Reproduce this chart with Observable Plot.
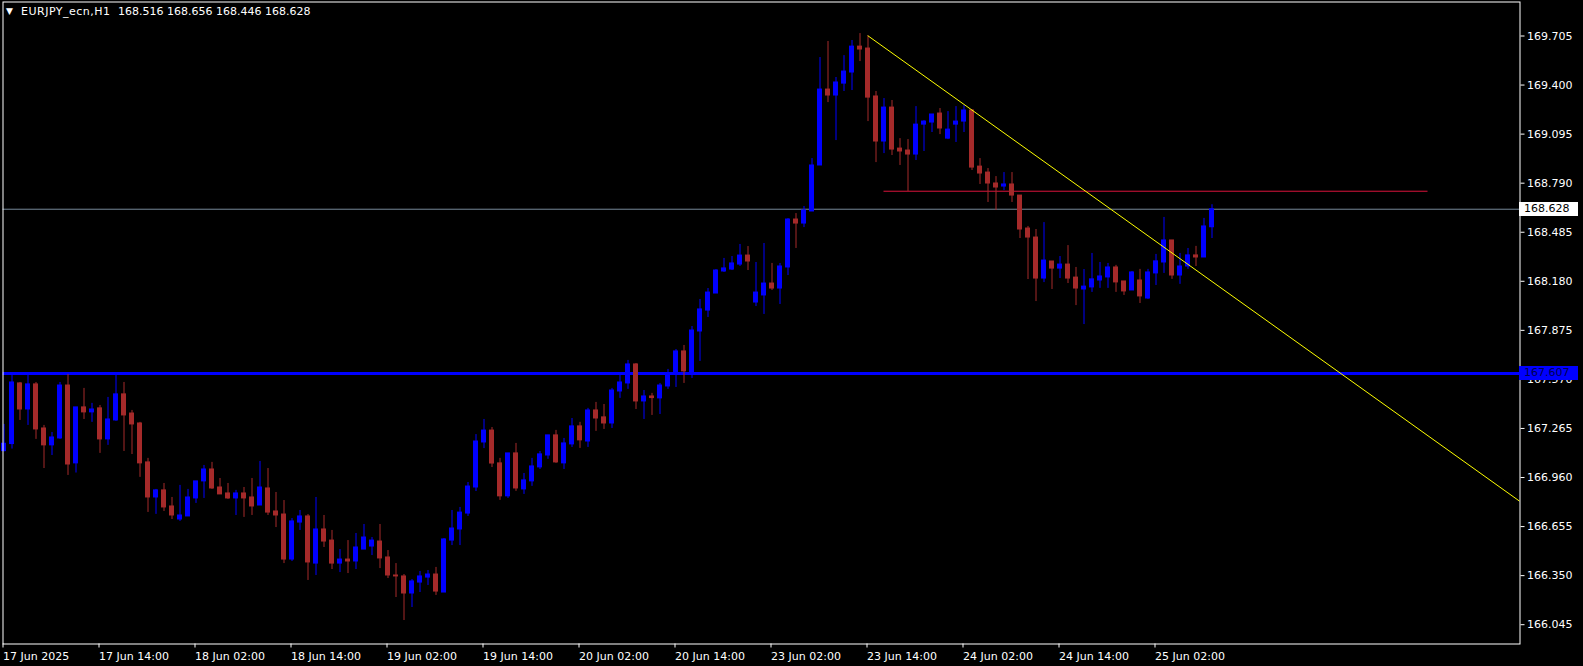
<!DOCTYPE html>
<html>
<head>
<meta charset="utf-8">
<script src="https://cdn.jsdelivr.net/npm/d3@7"></script>
<script src="https://cdn.jsdelivr.net/npm/@observablehq/plot@0.6"></script>
<style>
  html, body { margin: 0; padding: 0; background: #000; }
  #wrap { position: relative; width: 1583px; height: 666px; overflow: hidden; background: #000; }
  .ttl { position: absolute; top: 5px; color: #fff; font: 11px "DejaVu Sans", sans-serif; white-space: pre; }
  .tag { position: absolute; height: 14px; line-height: 14px; font: 11px "DejaVu Sans", sans-serif; padding-left: 5px; box-sizing: border-box; }
</style>
</head>
<body>
<div id="wrap">
  <div class="ttl" style="left:6px;top:6px;font-size:9px;">▼</div>
  <div class="ttl" style="left:21px;letter-spacing:0.5px;">EURJPY_ecn,H1</div>
  <div class="ttl" style="left:118px;">168.516 168.656 168.446 168.628</div>
</div>
<script>
// ---- data (EURJPY H1, bars from 17 Jun 02:00 to 25 Jun 09:00) ----
const opens = [
167.124,167.168,167.545,167.383,167.539,167.265,167.160,167.203,167.532,167.048,
167.396,167.365,167.390,167.197,167.315,167.477,167.358,167.296,167.054,166.836,
166.880,166.780,166.699,166.718,166.830,166.936,167.010,166.898,166.861,166.830,
166.861,166.836,166.786,166.892,166.749,166.730,166.450,166.680,166.718,166.425,
166.637,166.568,166.425,166.450,166.438,166.512,166.531,166.562,166.463,166.351,
166.345,166.239,166.307,166.338,166.357,166.245,166.568,166.637,166.736,166.898,
167.178,167.252,167.048,166.843,167.110,166.886,166.936,167.023,167.097,167.222,
167.048,167.166,167.278,167.184,167.377,167.334,167.296,167.495,167.545,167.663,
167.433,167.464,167.452,167.526,167.601,167.744,167.613,167.868,167.998,168.104,
168.241,168.253,168.284,168.340,168.048,168.092,168.166,168.135,168.266,168.564,
168.539,168.614,168.900,169.372,169.335,169.409,169.478,169.639,169.627,169.329,
169.049,169.260,169.005,168.993,168.968,169.154,169.167,169.223,169.067,169.154,
169.173,169.242,168.893,168.856,168.788,168.769,168.782,168.713,168.508,168.452,
168.197,168.303,168.259,168.284,168.203,168.129,168.142,168.185,168.204,168.266,
168.179,168.123,168.185,168.073,168.229,168.297,168.434,168.216,168.272,168.341,
168.328,168.516];
const highs = [
167.290,167.601,167.551,167.595,167.551,167.284,167.240,167.551,167.601,167.396,
167.514,167.421,167.408,167.458,167.595,167.551,167.377,167.303,167.079,166.886,
166.923,166.836,166.911,166.886,166.936,167.035,167.054,166.954,166.923,166.880,
166.898,166.954,167.060,167.016,166.867,166.817,166.705,166.755,166.730,166.836,
166.724,166.631,166.512,166.568,166.612,166.668,166.587,166.668,166.506,166.425,
166.357,166.326,166.376,166.382,166.401,166.581,166.755,166.774,166.929,167.227,
167.321,167.271,167.079,167.110,167.172,166.985,167.079,167.122,167.222,167.253,
167.203,167.327,167.303,167.390,167.427,167.414,167.514,167.607,167.688,167.669,
167.501,167.483,167.545,167.632,167.756,167.781,167.899,168.067,168.135,168.253,
168.322,168.334,168.409,168.396,168.297,168.415,168.291,168.291,168.570,168.601,
168.645,168.943,169.571,169.671,169.447,169.583,169.677,169.720,169.706,169.360,
169.316,169.304,169.067,169.061,169.266,169.179,169.217,169.254,169.235,169.266,
169.273,169.248,168.943,168.881,168.831,168.856,168.856,168.713,168.521,168.502,
168.545,168.303,168.334,168.402,168.266,168.253,168.353,168.297,168.291,168.279,
168.179,168.241,168.254,168.254,168.347,168.577,168.434,168.353,168.384,168.397,
168.571,168.656];
const lows = [
167.120,167.137,167.315,167.284,167.197,167.016,167.097,167.197,166.973,166.988,
167.321,167.303,167.110,167.160,167.309,167.122,167.103,166.961,166.743,166.731,
166.749,166.699,166.687,166.718,166.799,166.830,166.886,166.855,166.824,166.724,
166.712,166.724,166.786,166.724,166.649,166.425,166.438,166.631,166.320,166.351,
166.525,166.388,166.369,166.363,166.388,166.512,166.475,166.394,166.332,166.214,
166.071,166.152,166.245,166.289,166.227,166.245,166.537,166.537,166.718,166.873,
167.140,167.022,166.818,166.830,166.874,166.855,166.905,167.010,167.073,167.048,
167.010,167.147,167.141,167.147,167.247,167.259,167.265,167.452,167.508,167.383,
167.321,167.346,167.352,167.508,167.520,167.545,167.576,167.682,167.955,168.104,
168.235,168.247,168.272,168.247,168.023,167.974,168.123,168.036,168.216,168.384,
168.514,168.614,168.900,169.291,169.055,169.360,169.366,169.546,169.173,168.918,
168.974,168.962,168.900,168.738,168.931,168.987,169.105,169.092,169.061,169.043,
169.105,168.869,168.782,168.670,168.620,168.744,168.670,168.446,168.191,168.054,
168.172,168.129,168.197,168.166,168.029,167.911,168.111,168.136,168.136,168.111,
168.092,168.123,168.042,168.067,168.154,168.229,168.192,168.161,168.254,168.272,
168.328,168.446];
const closes = [
167.170,167.551,167.383,167.539,167.259,167.160,167.209,167.532,167.041,167.396,
167.365,167.383,167.197,167.321,167.477,167.346,167.290,167.048,166.836,166.880,
166.774,166.724,166.724,166.836,166.936,167.010,166.892,166.855,166.830,166.861,
166.830,166.780,166.898,166.742,166.724,166.450,166.687,166.718,166.432,166.637,
166.562,166.425,166.450,166.438,166.525,166.587,166.568,166.457,166.351,166.345,
166.239,166.314,166.345,166.357,166.251,166.575,166.643,166.742,166.904,167.184,
167.252,167.047,166.843,167.110,166.892,166.942,167.029,167.104,167.222,167.054,
167.172,167.278,167.191,167.377,167.327,167.296,167.501,167.551,167.663,167.433,
167.464,167.454,167.532,167.607,167.744,167.620,167.874,168.005,168.110,168.247,
168.260,168.291,168.340,168.303,168.110,168.166,168.135,168.272,168.564,168.539,
168.620,168.900,169.372,169.335,169.416,169.484,169.639,169.621,169.322,169.049,
169.260,168.999,168.987,168.968,169.154,169.173,169.217,169.130,169.123,169.173,
169.242,168.887,168.850,168.788,168.763,168.782,168.713,168.502,168.452,168.197,
168.309,168.259,168.284,168.197,168.135,168.147,168.192,168.210,168.266,168.173,
168.117,168.235,168.086,168.235,168.304,168.434,168.216,168.272,168.341,168.328,
168.521,168.628];

const xTickBars   = [0, 12, 24, 36, 48, 60, 72, 84, 96, 108, 120, 132, 144];
const xTickLabels = ["17 Jun 2025","17 Jun 14:00","18 Jun 02:00","18 Jun 14:00","19 Jun 02:00",
  "19 Jun 14:00","20 Jun 02:00","20 Jun 14:00","23 Jun 02:00","23 Jun 14:00",
  "24 Jun 02:00","24 Jun 14:00","25 Jun 02:00"];
const yTicks = [169.705,169.400,169.095,168.790,168.485,168.180,167.875,167.570,167.265,166.960,166.655,166.350,166.045];

const bidPrice = 168.628;
const supportLevel = 167.607;
const resistLevel = 168.740;
const resistBars = [110, 178];
const trendBars = [108, 189.5];
const trendPrices = [169.706, 166.811];

// ---- build ----
const bars = opens.map((o, i) => ({
  i, open: o, high: highs[i], low: lows[i], close: closes[i],
  up: closes[i] >= o
}));
const trend = trendBars.map((b, k) => ({b, p: trendPrices[k]}));
const BULL = "#0000ff", BEAR = "#a52a2a";
const half = 0.3125;

const plot = Plot.plot({
  width: 1583,
  height: 666,
  marginLeft: 2.5,
  marginRight: 63.5,
  marginTop: 1.5,
  marginBottom: 22.5,
  style: {background: "#000", color: "#fff", fontFamily: "DejaVu Sans, sans-serif", fontSize: "11px"},
  x: {type: "linear", domain: [-0.125, 189.5]},
  y: {type: "linear", domain: [165.925, 169.9164]},
  marks: [
    Plot.ruleY([bidPrice], {stroke: "#778899", strokeWidth: 1}),
    Plot.ruleY([supportLevel], {stroke: "#0000ff", strokeWidth: 3}),
    Plot.ruleY([resistLevel], {x1: resistBars[0], x2: resistBars[1], stroke: "#dc143c", strokeWidth: 1}),
    Plot.ruleX(bars, {x: "i", y1: "low", y2: "high", stroke: d => d.up ? BULL : BEAR, strokeWidth: 1}),
    Plot.rect(bars, {
      x1: d => d.i - half, x2: d => d.i + half,
      y1: "open", y2: "close",
      fill: d => d.up ? BULL : BEAR,
      insetTop: -0.5, insetBottom: -0.5
    }),
    Plot.line(trend, {x: "b", y: "p", stroke: "#ffff00", strokeWidth: 1, clip: true}),
    Plot.axisY({anchor: "right", ticks: yTicks, tickFormat: d3.format(".3f"), tickSize: 4, tickPadding: 3, stroke: "#fff", fill: "#fff", label: null}),
    Plot.axisX({ticks: xTickBars, tickFormat: (d) => xTickLabels[xTickBars.indexOf(d)], tickSize: 4, tickPadding: 4, textAnchor: "start", dx: -1, stroke: "#fff", fill: "#fff", label: null}),
    Plot.frame({stroke: "#fff", strokeWidth: 1})
  ]
});
const wrap = document.getElementById("wrap");
wrap.insertBefore(plot, wrap.firstChild);

// price tags on the right axis, positioned through the y scale
const ys = plot.scale("y");
function tag(value, bg, fg) {
  const d = document.createElement("div");
  d.className = "tag";
  d.textContent = d3.format(".3f")(value);
  d.style.left = "1519px";
  d.style.width = "59px";
  d.style.top = (ys.apply(value) - 7) + "px";
  d.style.background = bg;
  d.style.color = fg;
  wrap.appendChild(d);
}
tag(bidPrice, "#ffffff", "#000000");
tag(supportLevel, "#0000ff", "#000050");
</script>
</body>
</html>
